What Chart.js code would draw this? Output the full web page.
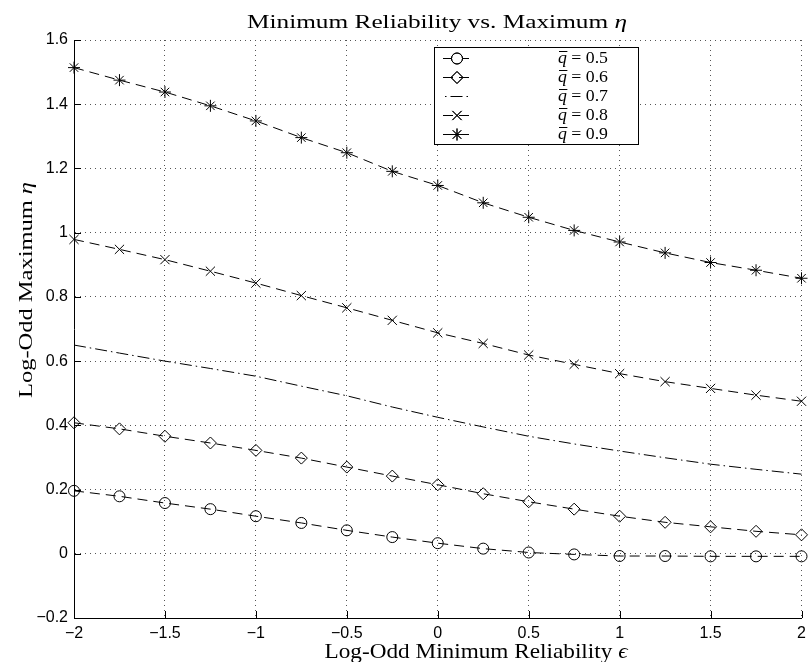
<!DOCTYPE html>
<html>
<head>
<meta charset="utf-8">
<script src="https://cdn.jsdelivr.net/npm/chart.js@4.4.1/dist/chart.umd.min.js"></script>
<style>
  body { margin: 0; background: #fff; }
  canvas { display: block; }
</style>
</head>
<body>
<canvas id="myChart" width="809" height="662"></canvas>
<script>
// log-odd minimum reliability (x) and log-odd max eta per q-bar
var xVals = [-2, -1.75, -1.5, -1.25, -1, -0.75, -0.5, -0.25, 0, 0.25, 0.5, 0.75, 1, 1.25, 1.5, 1.75, 2];
var q05 = [0.196, 0.179, 0.158, 0.139, 0.117, 0.096, 0.073, 0.052, 0.033, 0.016, 0.004, -0.002, -0.007, -0.007, -0.008, -0.008, -0.008];
var q06 = [0.408, 0.389, 0.366, 0.345, 0.322, 0.298, 0.270, 0.242, 0.215, 0.187, 0.162, 0.139, 0.117, 0.098, 0.084, 0.070, 0.059];
var q07 = [0.650, 0.625, 0.600, 0.577, 0.553, 0.522, 0.492, 0.457, 0.425, 0.395, 0.366, 0.342, 0.320, 0.299, 0.279, 0.263, 0.248];
var q08 = [0.979, 0.948, 0.916, 0.880, 0.843, 0.804, 0.766, 0.727, 0.688, 0.655, 0.619, 0.590, 0.561, 0.536, 0.515, 0.494, 0.475];
var q09 = [1.514, 1.475, 1.438, 1.395, 1.348, 1.296, 1.249, 1.191, 1.147, 1.093, 1.048, 1.007, 0.971, 0.937, 0.907, 0.883, 0.858];
var seriesLabels = ['0.5', '0.6', '0.7', '0.8', '0.9'];
var xTicks = [-2, -1.5, -1, -0.5, 0, 0.5, 1, 1.5, 2];
var yTicks = [-0.2, 0, 0.2, 0.4, 0.6, 0.8, 1, 1.2, 1.4, 1.6];

var DASH = [10, 6];
var DASHDOT = [12, 4, 1.5, 4];

function pts(ys) {
    return xVals.map(function (x, i) { return {x: x, y: ys[i]}; });
}

function mkSet(label, ys, style, radius, dash) {
    return {
        label: label,
        data: pts(ys),
        showLine: true,
        borderColor: '#000',
        borderWidth: 1,
        borderDash: dash,
        pointStyle: style,
        pointRadius: radius,
        pointHoverRadius: radius,
        pointBorderColor: '#000',
        pointBackgroundColor: 'rgba(0,0,0,0)',
        pointBorderWidth: 1,
        clip: false
    };
}

// draw a list of [text, fontStyle] runs stretched to a given width
function drawRuns(ctx, runs, x, baseline, targetW, size, align, rotate) {
    var total = 0, widths = [];
    runs.forEach(function (r) {
        ctx.font = r[1] + size + 'px "Liberation Serif"';
        var w = ctx.measureText(r[0]).width;
        widths.push(w);
        total += w;
    });
    var sx = targetW / total;
    ctx.save();
    ctx.translate(x, baseline);
    if (rotate) ctx.rotate(-Math.PI / 2);
    ctx.scale(sx, 1);
    ctx.fillStyle = '#000';
    ctx.textAlign = 'left';
    ctx.textBaseline = 'alphabetic';
    var cx = align === 'center' ? -total / 2 : 0;
    runs.forEach(function (r, i) {
        ctx.font = r[1] + size + 'px "Liberation Serif"';
        ctx.fillText(r[0], cx, 0);
        cx += widths[i];
    });
    ctx.restore();
    return widths[0] * sx;
}

var textPlugin = {
    id: 'texts',
    afterDraw: function (chart) {
        var ctx = chart.ctx;
        var xs = chart.scales.x, ys = chart.scales.y;
        var area = chart.chartArea;

        // inward ticks
        ctx.save();
        ctx.strokeStyle = '#000';
        ctx.lineWidth = 1;
        ctx.beginPath();
        yTicks.forEach(function (v) {
            var py = Math.round(ys.getPixelForValue(v)) + 0.5;
            ctx.moveTo(area.left, py);
            ctx.lineTo(area.left + 7, py);
        });
        xTicks.forEach(function (v) {
            var px = Math.round(xs.getPixelForValue(v)) + 0.5;
            ctx.moveTo(px, area.bottom);
            ctx.lineTo(px, area.bottom - 7);
        });
        ctx.stroke();
        ctx.restore();

        drawRuns(ctx, [['Minimum Reliability vs. Maximum ', ''], ['\u03B7', 'italic ']], 437, 28, 380, 19, 'center');
        drawRuns(ctx, [['Log-Odd Minimum Reliability ', ''], ['\u03F5', 'italic ']], 476, 658, 303, 21, 'center');
        drawRuns(ctx, [['Log-Odd Maximum ', ''], ['\u03B7', 'italic ']], 32, 290, 216, 19, 'center', true);

        // legend box
        var bx = 434.5, by = 47.5, bw = 204, bh = 97;
        ctx.save();
        ctx.fillStyle = '#fff';
        ctx.fillRect(bx, by, bw, bh);
        ctx.strokeStyle = '#000';
        ctx.lineWidth = 1;
        ctx.strokeRect(bx, by, bw, bh);
        chart.data.datasets.forEach(function (ds, i) {
            var ry = 58 + i * 19;
            ctx.save();
            ctx.strokeStyle = '#000';
            ctx.lineWidth = 1;
            if (ds.borderDash === DASHDOT) {
                ctx.setLineDash(DASHDOT);
                ctx.lineDashOffset = 16;
                ctx.beginPath();
                ctx.moveTo(445, ry + 0.5);
                ctx.lineTo(469, ry + 0.5);
                ctx.stroke();
            } else {
                ctx.setLineDash(DASH);
                ctx.beginPath();
                ctx.moveTo(443, ry + 0.5);
                ctx.lineTo(470, ry + 0.5);
                ctx.stroke();
            }
            ctx.restore();
            if (ds.pointRadius > 0) {
                Chart.helpers.drawPoint(ctx, {
                    pointStyle: ds.pointStyle,
                    radius: ds.pointRadius,
                    borderWidth: 1,
                    rotation: 0
                }, 457, ry + 0.5);
                ctx.strokeStyle = '#000';
                ctx.fillStyle = 'rgba(0,0,0,0)';
                ctx.lineWidth = 1;
                ctx.beginPath();
                Chart.helpers.drawPoint(ctx, {pointStyle: ds.pointStyle, radius: ds.pointRadius, borderWidth: 1, rotation: 0}, 457, ry + 0.5);
            }
            var qw = drawRuns(ctx, [['q', 'italic '], [' = ' + seriesLabels[i], '']], 558, ry + 5, 50, 16, 'left');
            ctx.beginPath();
            ctx.moveTo(559, ry - 6.5);
            ctx.lineTo(558 + qw + 0.5, ry - 6.5);
            ctx.stroke();
        });
        ctx.restore();
    }
};

var tickFont = {family: '"Liberation Sans", Arial, sans-serif', size: 16};

var ctx = document.getElementById('myChart');
var myChart = new Chart(ctx, {
    type: 'scatter',
    data: {
        datasets: [
            mkSet('q = 0.5', q05, 'circle', 5.5, DASH),
            mkSet('q = 0.6', q06, 'rectRot', 6, DASH),
            mkSet('q = 0.7', q07, 'circle', 0, DASHDOT),
            mkSet('q = 0.8', q08, 'crossRot', 6.5, DASH),
            mkSet('q = 0.9', q09, 'star', 6, DASH)
        ]
    },
    options: {
        responsive: false,
        animation: false,
        events: [],
        layout: {padding: {top: 40, right: 1, left: 0, bottom: 0}},
        plugins: {
            legend: {display: false},
            title: {display: false},
            tooltip: {enabled: false}
        },
        scales: {
            x: {
                type: 'linear',
                min: -2,
                max: 2,
                afterBuildTicks: function (s) { s.ticks = xTicks.map(function (v) { return {value: v}; }); },
                afterFit: function (s) { s.height = 44; s.paddingLeft = 0; s.paddingRight = 0; },
                ticks: {
                    color: '#000',
                    font: tickFont,
                    padding: 6,
                    maxRotation: 0,
                    autoSkip: false,
                    callback: function (v) { return String(v).replace('-', '\u2212'); }
                },
                grid: {color: '#555', lineWidth: 1, drawTicks: false},
                border: {display: true, color: '#000', width: 1, dash: [1, 4]}
            },
            y: {
                type: 'linear',
                min: -0.2,
                max: 1.6,
                afterBuildTicks: function (s) { s.ticks = yTicks.map(function (v) { return {value: v}; }); },
                afterFit: function (s) { s.width = 74; s.paddingTop = 0; s.paddingBottom = 0; },
                ticks: {
                    color: '#000',
                    font: tickFont,
                    padding: 6,
                    autoSkip: false,
                    callback: function (v) { return String(v).replace('-', '\u2212'); }
                },
                grid: {color: '#555', lineWidth: 1, drawTicks: false},
                border: {display: true, color: '#000', width: 1, dash: [1, 4]}
            }
        }
    },
    plugins: [textPlugin]
});
</script>
</body>
</html>
